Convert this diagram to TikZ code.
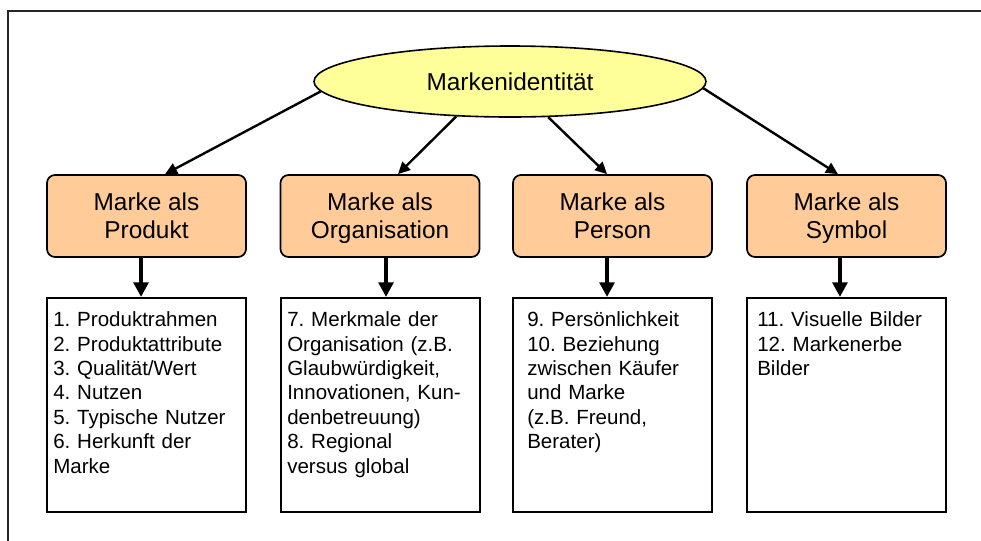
\documentclass[tikz,border=0pt]{standalone}
\usepackage{fontspec}
\setmainfont{Liberation Sans}
\usetikzlibrary{shapes.geometric,arrows.meta}
\definecolor{ellfill}{HTML}{FFFF99}
\definecolor{boxfill}{HTML}{FFCC99}
\newcommand{\topstrut}{\rule{0pt}{17pt}}
\newcommand{\botstrut}{\rule[-4pt]{0pt}{4pt}}
\frenchspacing
\begin{document}
\begin{tikzpicture}[x=0.75pt,y=-0.75pt,
  ell/.style={ellipse, draw=black, line width=1.2pt, fill=ellfill, minimum width=294pt, minimum height=53.25pt, inner sep=0pt, font=\fontsize{18.3}{21}\selectfont},
  topbox/.style={rectangle, rounded corners=6pt, draw=black, line width=1.3pt, fill=boxfill, minimum width=149.25pt, minimum height=61.5pt, inner sep=0pt, align=center, font=\fontsize{18.3}{21}\selectfont},
  listbox/.style={rectangle, draw=black, line width=1.5pt, fill=white, minimum width=149.25pt, minimum height=160.5pt, inner sep=0pt},
  listtext/.style={anchor=base west, inner sep=0pt, align=left, text width=145pt, font=\fontsize{15.4}{18.3}\selectfont},
  thinarrow/.style={line width=1.8pt, -{Triangle[length=9pt,width=8.5pt]}},
  thickarrow/.style={line width=3.4pt, -{Triangle[length=11pt,width=11pt]}},
  frameline/.style={line width=1.5pt, draw=black!85}
]
\useasboundingbox (0,0) rectangle (981,540);
\draw[frameline] (8,560) -- (8,11) -- (1000,11);

\node[ell] (ell) at (510,81.5) {Markenidentität};

\node[topbox] (ub1) at (146.5,216) {\topstrut Marke als\\Produkt\botstrut};
\node[topbox] (ub2) at (380,216) {\topstrut Marke als\\Organisation\botstrut};
\node[topbox] (ub3) at (612.5,216) {\topstrut Marke als\\Person\botstrut};
\node[topbox] (ub4) at (846.5,216) {\topstrut Marke als\\Symbol\botstrut};

\node[listbox] (lb1) at (146.5,405) {};
\node[listbox] (lb2) at (380,405) {};
\node[listbox] (lb3) at (612.5,405) {};
\node[listbox] (lb4) at (846.5,405) {};

\node[listtext] (t1) at (53,326.7) {1. Produktrahmen\\2. Produktattribute\\3. Qualität/Wert\\4. Nutzen\\5. Typische Nutzer\\6. Herkunft der\\Marke};
\node[listtext] (t2) at (287,326.7) {7. Merkmale der\\Organisation (z.B.\\Glaubwürdigkeit,\\Innovationen, Kun-\\denbetreuung)\\8. Regional\\versus global};
\node[listtext] (t3) at (527,326.7) {9. Persönlichkeit\\10. Beziehung\\zwischen Käufer\\und Marke\\(z.B. Freund,\\Berater)};
\node[listtext] (t4) at (757,326.7) {11. Visuelle Bilder\\12. Markenerbe\\Bilder};

\draw[thinarrow] (ell.183.4) -- ([xshift=13.9pt]ub1.north);
\draw[thinarrow] (ell.213.3) -- ([xshift=13.5pt]ub2.north);
\draw[thinarrow] (ell.317) -- ([xshift=-4.1pt]ub3.north);
\draw[thinarrow] (ell.358.1) -- ([xshift=-6.4pt]ub4.north);

\draw[thickarrow] ([xshift=-4.1pt]ub1.south) -- ([xshift=-4.1pt]lb1.north);
\draw[thickarrow] ([xshift=4.5pt]ub2.south) -- ([xshift=4.5pt]lb2.north);
\draw[thickarrow] ([xshift=-4.1pt]ub3.south) -- ([xshift=-4.1pt]lb3.north);
\draw[thickarrow] ([xshift=-4.9pt]ub4.south) -- ([xshift=-4.9pt]lb4.north);
\end{tikzpicture}
\end{document}
